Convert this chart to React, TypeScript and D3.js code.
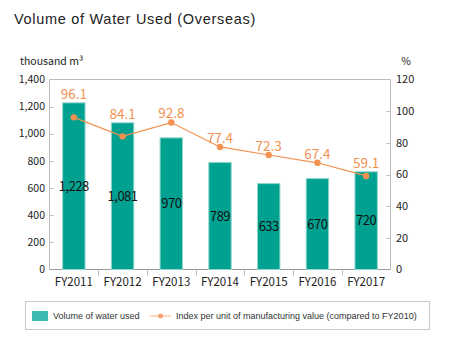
import { useRef, useEffect } from 'react';
import * as d3 from 'd3';

const years = ['FY2011', 'FY2012', 'FY2013', 'FY2014', 'FY2015', 'FY2016', 'FY2017'];
const waterVolume = [1228, 1081, 970, 789, 633, 670, 720];
const indexValues = [96.1, 84.1, 92.8, 77.4, 72.3, 67.4, 59.1];
const leftTicks = [0, 200, 400, 600, 800, 1000, 1200, 1400];
const rightTicks = [0, 20, 40, 60, 80, 100, 120];

const WIDTH = 450;
const HEIGHT = 350;
const PLOT = { left: 49.5, right: 390.5, top: 79.5, bottom: 269.5 };
const TEAL = '#00a190';
const ORANGE = '#f39150';
const AXIS = '#bdbdbd';
const FONT = '"Noto Sans CJK JP", "Noto Sans", sans-serif';
const LATIN = '"Liberation Sans", Arial, sans-serif';

export default function App() {
  const svgRef = useRef<SVGSVGElement>(null);

  useEffect(() => {
    if (!svgRef.current) return;
    const svg = d3.select(svgRef.current);
    svg.selectAll('*').remove();

    const x = d3.scaleBand<string>().domain(years).range([PLOT.left, PLOT.right]).paddingInner(0.54).paddingOuter(0.27);
    const yL = d3.scaleLinear().domain([0, 1400]).range([PLOT.bottom, PLOT.top]);
    const yR = d3.scaleLinear().domain([0, 120]).range([PLOT.bottom, PLOT.top]);
    const step = (PLOT.right - PLOT.left) / years.length;

    // Title
    svg.append('text')
      .attr('x', 14).attr('y', 24)
      .attr('font-family', LATIN).attr('font-size', '14.5px')
      .attr('letter-spacing', '0.7px')
      .attr('fill', '#222')
      .text('Volume of Water Used (Overseas)');

    // unit labels
    svg.append('text')
      .attr('x', 20).attr('y', 65)
      .attr('font-family', FONT).attr('font-size', '10.5px').attr('fill', '#222')
      .text('thousand m³');
    svg.append('text')
      .attr('x', 406).attr('y', 65)
      .attr('text-anchor', 'middle')
      .attr('font-family', FONT).attr('font-size', '10.5px').attr('fill', '#222')
      .text('%');

    // frame
    const frame = svg.append('g').attr('stroke', AXIS).attr('fill', 'none');
    frame.append('path')
      .attr('d', `M${PLOT.left},${PLOT.bottom}V${PLOT.top}H${PLOT.right}V${PLOT.bottom}`);
    frame.append('line')
      .attr('x1', PLOT.left).attr('x2', PLOT.right)
      .attr('y1', PLOT.bottom).attr('y2', PLOT.bottom)
      .attr('stroke', '#999');

    // inner ticks
    frame.selectAll('line.lt')
      .data(leftTicks.slice(1, -1))
      .join('line')
      .attr('class', 'lt')
      .attr('x1', PLOT.left).attr('x2', PLOT.left + 4)
      .attr('y1', (d) => Math.round(yL(d)) + 0.5).attr('y2', (d) => Math.round(yL(d)) + 0.5);
    frame.selectAll('line.rt')
      .data(rightTicks.slice(1, -1))
      .join('line')
      .attr('class', 'rt')
      .attr('x1', PLOT.right - 4).attr('x2', PLOT.right)
      .attr('y1', (d) => Math.round(yR(d)) + 0.5).attr('y2', (d) => Math.round(yR(d)) + 0.5);
    frame.selectAll('line.xt')
      .data(years.slice(1))
      .join('line')
      .attr('class', 'xt')
      .attr('x1', (d) => Math.round(x(d)! - (step - x.bandwidth()) / 2) + 0.5)
      .attr('x2', (d) => Math.round(x(d)! - (step - x.bandwidth()) / 2) + 0.5)
      .attr('y1', PLOT.bottom).attr('y2', PLOT.bottom + 6);

    // tick labels
    svg.append('g')
      .selectAll('text')
      .data(leftTicks)
      .join('text')
      .attr('x', 45).attr('y', (d) => yL(d))
      .attr('dy', '0.35em')
      .attr('text-anchor', 'end')
      .attr('font-family', FONT).attr('font-size', '10.5px').attr('fill', '#222')
      .text((d) => d3.format(',')(d));
    svg.append('g')
      .selectAll('text')
      .data(rightTicks)
      .join('text')
      .attr('x', 396).attr('y', (d) => yR(d))
      .attr('dy', '0.35em')
      .attr('font-family', FONT).attr('font-size', '11px').attr('fill', '#222')
      .text((d) => d);
    svg.append('g')
      .selectAll('text')
      .data(years)
      .join('text')
      .attr('x', (d) => x(d)! + x.bandwidth() / 2).attr('y', 282)
      .attr('dy', '0.35em')
      .attr('text-anchor', 'middle')
      .attr('font-family', FONT).attr('font-size', '11.5px').attr('fill', '#222')
      .text((d) => d);

    // bars
    svg.append('g')
      .selectAll('rect')
      .data(waterVolume)
      .join('rect')
      .attr('x', (_, i) => x(years[i])!)
      .attr('y', (d) => yL(d))
      .attr('width', x.bandwidth())
      .attr('height', (d) => PLOT.bottom - yL(d))
      .attr('fill', TEAL)
      .attr('stroke', '#8fd6cc')
      .attr('stroke-width', 1);

    // bar value labels
    svg.append('g')
      .selectAll('text')
      .data(waterVolume)
      .join('text')
      .attr('x', (_, i) => x(years[i])! + x.bandwidth() / 2)
      .attr('y', (d) => (yL(d) + PLOT.bottom) / 2)
      .attr('dy', '0.35em')
      .attr('text-anchor', 'middle')
      .attr('font-family', FONT).attr('font-size', '13px').attr('fill', '#111')
      .attr('letter-spacing', '-0.5px')
      .text((d) => d3.format(',')(d));

    // index line
    const line = d3.line<number>()
      .x((_, i) => x(years[i])! + x.bandwidth() / 2)
      .y((d) => yR(d));
    svg.append('path')
      .datum(indexValues)
      .attr('fill', 'none')
      .attr('stroke', ORANGE)
      .attr('stroke-width', 1.2)
      .attr('d', line);
    svg.append('g')
      .selectAll('circle')
      .data(indexValues)
      .join('circle')
      .attr('cx', (_, i) => x(years[i])! + x.bandwidth() / 2)
      .attr('cy', (d) => yR(d))
      .attr('r', 3.2)
      .attr('fill', ORANGE);

    // index labels sit above the bars
    svg.append('g')
      .selectAll('text')
      .data(indexValues)
      .join('text')
      .attr('x', (_, i) => x(years[i])! + x.bandwidth() / 2)
      .attr('y', (d, i) => Math.min(yL(waterVolume[i]), yR(d)) - 9)
      .attr('dy', '0.35em')
      .attr('text-anchor', 'middle')
      .attr('font-family', FONT).attr('font-size', '13.5px').attr('fill', ORANGE)
      .text((d) => d3.format('.1f')(d));

    // legend
    const lg = svg.append('g');
    lg.append('rect')
      .attr('x', 25.5).attr('y', 301.5).attr('width', 404).attr('height', 28)
      .attr('fill', '#fff').attr('stroke', '#c8c8c8');
    lg.append('rect')
      .attr('x', 32).attr('y', 311).attr('width', 16).attr('height', 10)
      .attr('fill', '#3dbbb0');
    lg.append('text')
      .attr('x', 53).attr('y', 316).attr('dy', '0.35em')
      .attr('font-family', LATIN).attr('font-size', '9px').attr('fill', '#333')
      .text('Volume of water used');
    lg.append('line')
      .attr('x1', 150).attr('x2', 171).attr('y1', 316).attr('y2', 316)
      .attr('stroke', ORANGE).attr('stroke-opacity', 0.6).attr('stroke-width', 1.2);
    lg.append('circle')
      .attr('cx', 160.5).attr('cy', 316).attr('r', 2.5)
      .attr('fill', ORANGE).attr('fill-opacity', 0.8);
    lg.append('text')
      .attr('x', 176).attr('y', 316).attr('dy', '0.35em')
      .attr('font-family', LATIN).attr('font-size', '9px').attr('fill', '#333')
      .text('Index per unit of manufacturing value (compared to FY2010)');
  }, []);

  return (
    <svg
      ref={svgRef}
      width={WIDTH}
      height={HEIGHT}
      viewBox={`0 0 ${WIDTH} ${HEIGHT}`}
      style={{ position: 'fixed', left: 0, top: 0, background: '#fff' }}
    />
  );
}
